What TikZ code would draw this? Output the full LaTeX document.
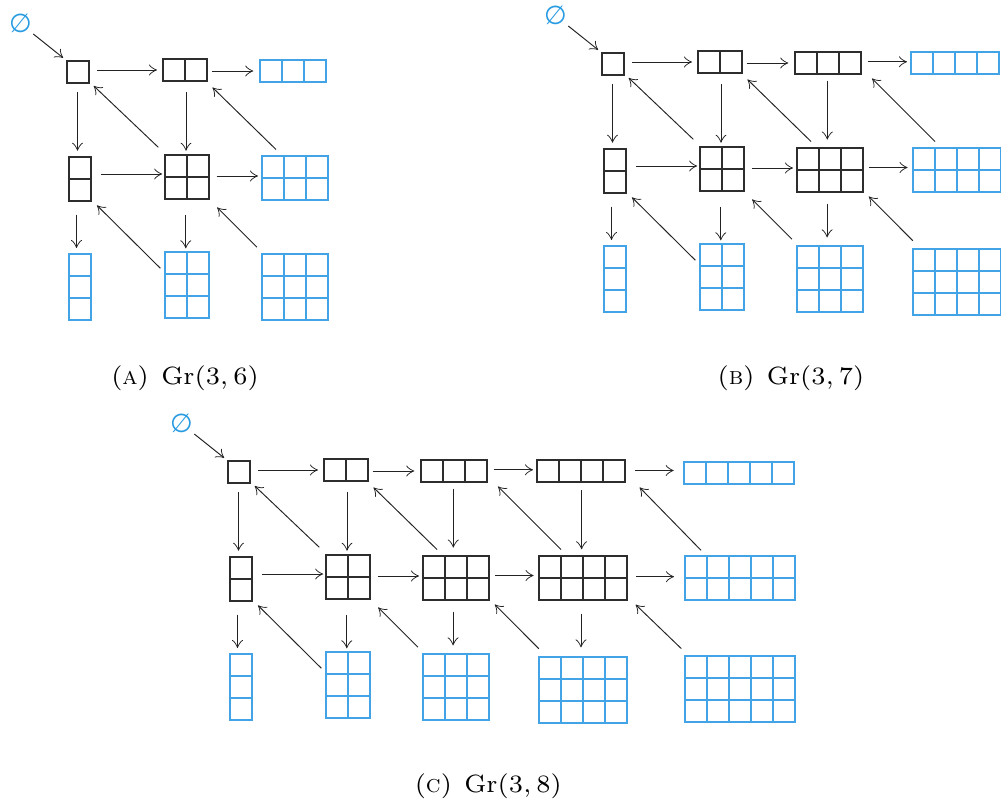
\documentclass[tikz,border=0pt]{standalone}
\usepackage{amssymb}
\usepackage{fontspec}
\newfontfamily\djv{DejaVu Sans}
\usetikzlibrary{arrows.meta,calc}
\definecolor{ydb}{RGB}{66,164,230}
\definecolor{emc}{RGB}{40,155,225}
\definecolor{ink}{RGB}{45,45,45}
\definecolor{arrc}{RGB}{35,35,35}
\def\cs{22}
\tikzset{
  ydk/.style={draw=ink, line width=1.1pt, inner sep=0pt, outer sep=0pt, rectangle},
  ydbl/.style={draw=ydb, line width=1.05pt, inner sep=0pt, outer sep=0pt, rectangle},
  arr/.style={draw=arrc, line width=0.95pt, -{Classical TikZ Rightarrow[length=8pt,width=11pt]}},
  capt/.style={inner sep=0pt, anchor=base},
  empt/.style={text=emc, font=\djv\fontsize{26}{30}\selectfont, inner sep=0pt}
}
\newcommand\captext[1]{\scalebox{3.57}{\fontsize{7}{9}\selectfont #1}}
% Young diagram: name, x, y, rows, cols, style
\newcommand\ydiag[6]{%
  \node[#6, minimum width={#5*\cs pt}, minimum height={#4*\cs pt}] (#1) at (#2,#3) {};
  \ifnum#5>1 \foreach \k in {2,...,#5}{\draw[#6] ($(#1.north west)+({(\k-1)*\cs},0)$) -- ($(#1.south west)+({(\k-1)*\cs},0)$);}\fi
  \ifnum#4>1 \foreach \k in {2,...,#4}{\draw[#6] ($(#1.north west)+(0,{(\k-1)*\cs})$) -- ($(#1.north east)+(0,{(\k-1)*\cs})$);}\fi
}
\newcommand\harr[5]{\draw[arr] ([shift={(#3,#5)}]#1.east) coordinate (hs) -- ([xshift=-#4pt]hs -| #2.west);}
\newcommand\varr[5]{\draw[arr] ([shift={(#5,#3)}]#1.south) coordinate (vs) -- ([yshift=#4pt]vs |- #2.north);}
\newcommand\darr[6]{\draw[arr] ([shift={(#3,#4)}]#1.north west) -- ([shift={(#5,#6)}]#2.south east);}
% full diagram: prefix, number of columns
\newcommand\grdiag[2]{%
  \foreach \rr/\cc/\x/\y in {1/1/78/72, 1/2/185/70, 1/3/293/71, 1/4/420/71, 1/5/578/73,
      2/1/80/179, 2/2/187/177, 2/3/295/178, 2/4/422/178, 2/5/579/178,
      3/1/80/287, 3/2/187/285, 3/3/295/287, 3/4/422/290, 3/5/579/289}{%
    \ifnum\cc>#2\relax\else
      \edef\ydcmd{\noexpand\ydiag{#1-\rr-\cc}{\x}{\y}{\rr}{\cc}{\ifnum\rr=3 ydbl\else\ifnum\cc=#2 ydbl\else ydk\fi\fi}}%
      \ydcmd
    \fi
  }
  \node[empt] (#1-e) at (20.5,23) {∅};
  \draw[arr] ([shift={(12.8,11)}]#1-e.center) -- ([shift={(-3.8,-3.1)}]#1-1-1.north west);
  \foreach \rr/\cc/\s/\e/\d in {1/1/8/6/-2, 1/2/4.5/6.7/1, 1/3/6.6/4/-1.2, 1/4/10.3/10.3/-0.5,
      2/1/10.2/2.8/-5, 2/2/7.5/4/-1, 2/3/6/5.4/-2.5, 2/4/9/11/-1.3}{%
    \ifnum\cc<#2
      \pgfmathtruncatemacro\cn{\cc+1}%
      \harr{#1-\rr-\cc}{#1-\rr-\cn}{\s}{\e}{\d}
    \fi
  }
  \foreach \rr/\cc/\s/\e/\d in {1/1/9.4/6.3/-0.5, 1/2/11.3/4.3/1, 1/3/6.7/8.4/-0.7, 1/4/8.4/6.7/0.6,
      2/1/13.7/6/-3.5, 2/2/16/3.7/-1.2, 2/3/11.6/8.6/-2.9, 2/4/13.6/9.6/-2}{%
    \ifnum\cc<#2
      \pgfmathtruncatemacro\rn{\rr+1}%
      \varr{#1-\rr-\cc}{#1-\rn-\cc}{\s}{\e}{\d}
    \fi
  }
  \foreach \rr/\cc/\sx/\sy/\ex/\ey in {1/1/-6.7/-7.7/4.7/2.9, 1/2/14/-6.5/5.5/6.5, 1/3/22/-6.5/11/4.5, 1/4/16/-5.7/14.6/5.4,
      2/1/-4.7/16.2/6/4.4, 2/2/-5/-6.8/8.2/8.5, 2/3/-0.2/-8.3/5.8/4.5, 2/4/-3.7/-7.4/8.6/4.6}{%
    \ifnum\cc<#2
      \pgfmathtruncatemacro\rn{\rr+1}%
      \pgfmathtruncatemacro\cn{\cc+1}%
      \darr{#1-\rn-\cn}{#1-\rr-\cc}{\sx}{\sy}{\ex}{\ey}
    \fi
  }
}
\begin{document}
\begin{tikzpicture}[x=1pt,y=-1pt]
  \useasboundingbox (0,0) rectangle (1001,805);
  \clip (0,0) rectangle (1001,805);
  \begin{scope}\grdiag{A}{3}\end{scope}
  \begin{scope}[shift={(535,-8)}]\grdiag{B}{4}\end{scope}
  \begin{scope}[shift={(161,400)}]\grdiag{C}{5}\end{scope}
  \node[capt] (capA) at (185,384.3) {\captext{(\textsc{a})\hspace{0.5em}$\mathrm{Gr}(3,6)$}};
  \node[capt] (capB) at (791,384.3) {\captext{(\textsc{b})\hspace{0.5em}$\mathrm{Gr}(3,7)$}};
  \node[capt] (capC) at (488.3,792.3) {\captext{(\textsc{c})\hspace{0.5em}$\mathrm{Gr}(3,8)$}};
\end{tikzpicture}
\end{document}
